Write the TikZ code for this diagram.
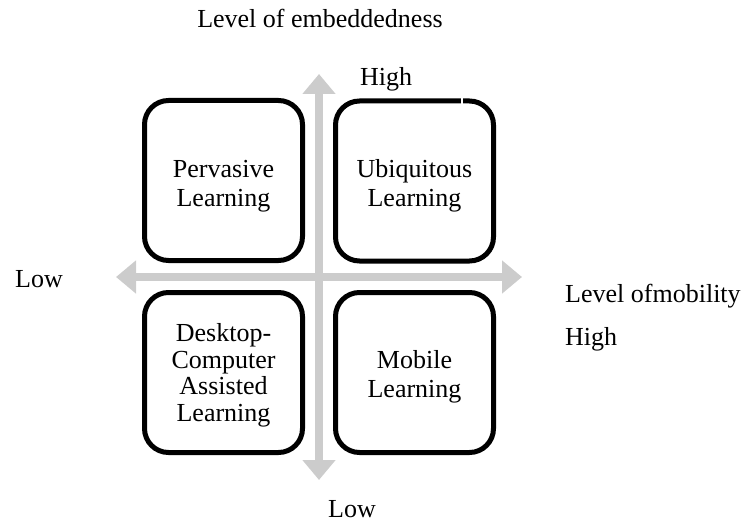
\documentclass[tikz,border=0pt]{standalone}
\usepackage{fontspec}
\setmainfont{Liberation Serif}
\usetikzlibrary{arrows.meta}
\definecolor{axisgray}{RGB}{204,204,204}
\tikzset{
  quad/.style={draw, line width=5pt, rounded corners=24pt, minimum width=158pt,
    minimum height=160pt, inner sep=0pt},
  qtext/.style={align=center, inner sep=0pt, font=\fontsize{26}{29}\selectfont},
  axis/.style={line width=8.5pt, color=axisgray,
    {Triangle[width=32pt,length=20pt]}-{Triangle[width=32pt,length=20pt]}},
  lbl/.style={inner sep=0pt, font=\fontsize{26}{30}\selectfont}
}

\begin{document}
\begin{tikzpicture}[x=1pt,y=-1pt]
  \useasboundingbox (0,0) rectangle (744,524);

  \coordinate (up) at (319,74);
  \coordinate (down) at (319,480);
  \coordinate (left) at (116,277);
  \coordinate (right) at (522,277);
  \draw[axis] (down) -- (up);
  \draw[axis] (left) -- (right);

  \node[quad] (pervasive) at (223.5,180.5) {};
  \node[quad] (ubiquitous) at (414.5,181) {};
  \node[quad] (desktop) at (223.5,372.5) {};
  \node[quad] (mobile) at (414.5,372.5) {};
  \fill[white] (461,94) rectangle (463,104);

  \node[qtext] (pervasive-t) at ([yshift=-6pt]pervasive.center) {Pervasive\\Learning};
  \node[qtext] (ubiquitous-t) at ([yshift=-5pt]ubiquitous.center) {Ubiquitous\\Learning};
  \node[qtext, font=\fontsize{26}{26.5}\selectfont] (desktop-t) at ([yshift=-3pt]desktop.center) {Desktop-\\Computer\\Assisted\\Learning};
  \node[qtext] (mobile-t) at ([yshift=-4pt]mobile.center) {Mobile\\Learning};

  \node[lbl, anchor=base] (embed) at (320,28) {Level of embeddedness};
  \node[lbl, anchor=base] (highy) at (386,86) {High};
  \node[lbl, anchor=base west] (lowx) at (15,287) {Low};
  \node[lbl, anchor=base west] (mobility) at (565,302) {Level ofmobility};
  \node[lbl, anchor=base west] (highx) at (565,345) {High};
  \node[lbl, anchor=base] (lowy) at (352,517) {Low};
\end{tikzpicture}
\end{document}
